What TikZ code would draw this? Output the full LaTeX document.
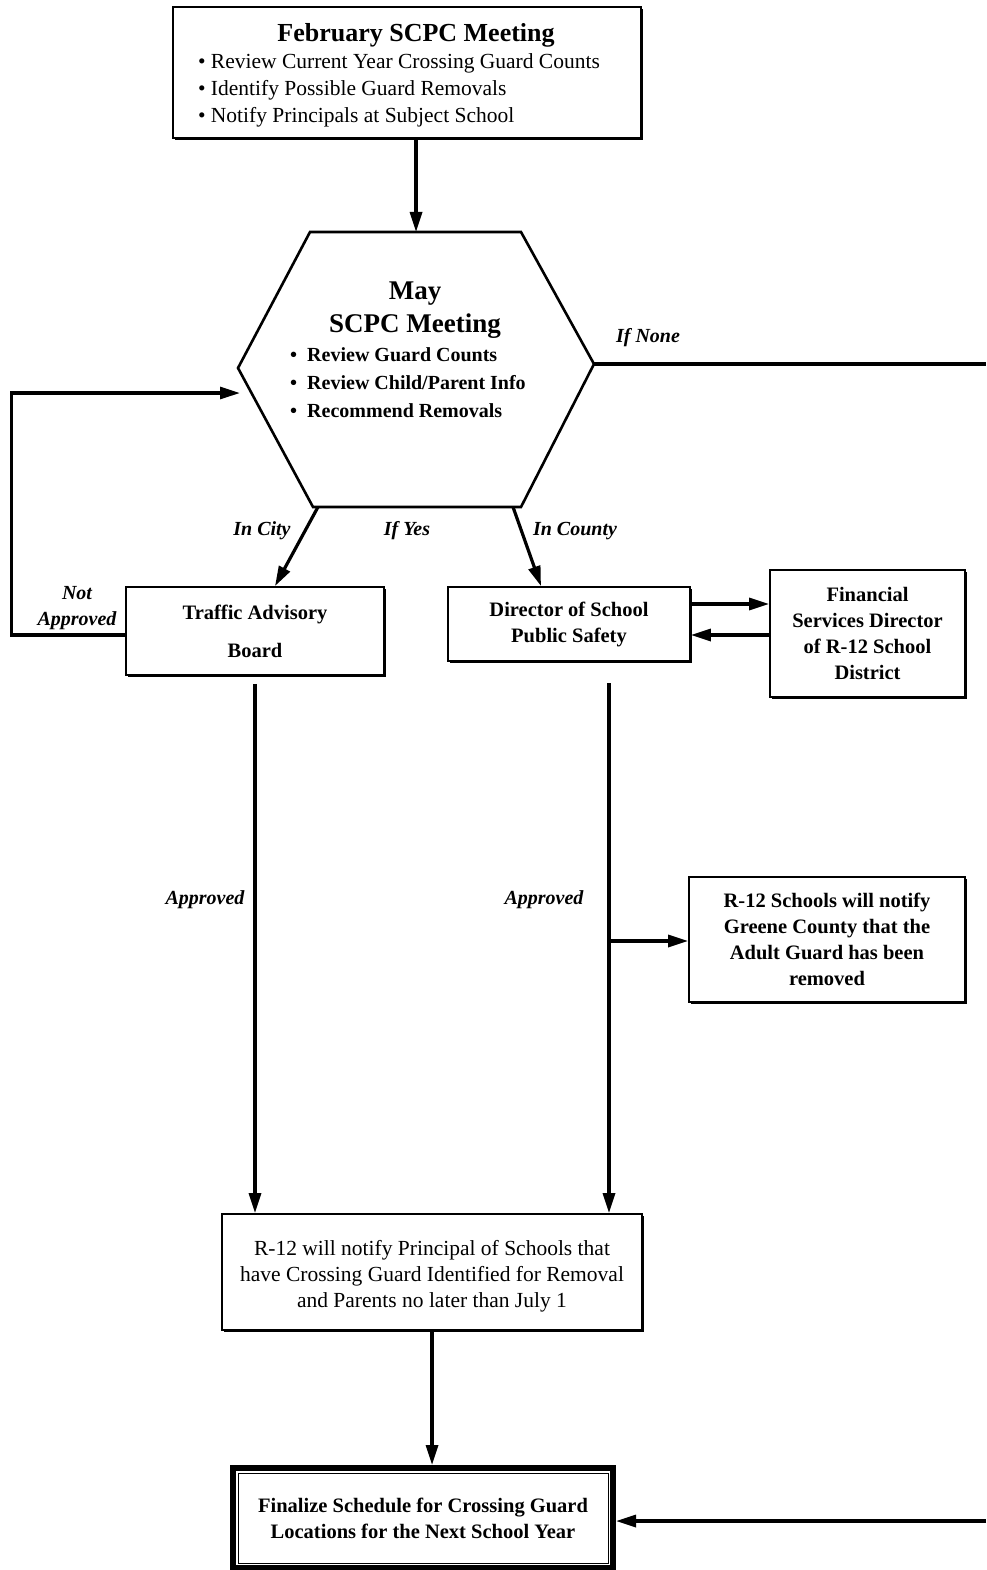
\documentclass[tikz,border=0pt]{standalone}
\usepackage{fontspec}
\setmainfont{Liberation Serif}
\usetikzlibrary{arrows.meta,shadows}

\newcommand{\boldtxt}{\bfseries\fontsize{20.5}{26}\selectfont}
\newcommand{\tagtxt}{\bfseries\itshape\fontsize{20}{26}\selectfont}
\newcommand{\plaintxt}{\fontsize{21.5}{26}\selectfont}

\begin{document}
\begin{tikzpicture}[x=1pt, y=-1pt,
  box/.style={draw, line width=1.8pt, fill=white, align=center, font=\boldtxt,
    inner sep=2pt,
    general shadow={fill=black, shadow xshift=1.6pt, shadow yshift=-1.6pt}},
  wire/.style={line width=3.2pt},
  link/.style={wire, -{Triangle[length=20pt,width=12pt]}},
  tag/.style={font=\tagtxt, align=center}]
\useasboundingbox (0,0) rectangle (986,1570);

% first meeting
\node[box, font=\fontsize{21.5}{27}\selectfont, minimum width=468pt, minimum height=131pt] (feb) at (407,72.5)
  {\raisebox{-4pt}[\height][\depth]{\begin{tabular}{@{}l@{}}
   \multicolumn{1}{@{}c@{}}{\hspace{34pt}\bfseries\fontsize{26}{27}\selectfont February SCPC Meeting}\\
   \textbullet\ Review Current Year Crossing Guard Counts\\
   \textbullet\ Identify Possible Guard Removals\\
   \textbullet\ Notify Principals at Subject School
   \end{tabular}}\hspace*{16pt}};

% hexagon
\coordinate (hnw) at (310,232);
\coordinate (hne) at (521,232);
\coordinate (he) at (594,364);
\coordinate (hse) at (521,507);
\coordinate (hsw) at (313,507);
\coordinate (hw) at (238,368);
\draw[line width=2.6pt, line join=miter] (hnw) -- (hne) -- (he) -- (hse) -- (hsw) -- (hw) -- cycle;
\node[font=\bfseries\fontsize{27}{33}\selectfont, align=center] (maytitle) at (415,310) {May\\SCPC Meeting};
\node[font=\bfseries\fontsize{20}{28}\selectfont, align=left] (maylist) at (408,383)
  {\textbullet\ \ Review Guard Counts\\
   \textbullet\ \ Review Child/Parent Info\\
   \textbullet\ \ Recommend Removals};

% boxes
\node[box, minimum width=258pt, minimum height=88pt] (trb) at (255,631) {Traffic Advisory\\[12pt]Board};
\node[box, minimum width=242pt, minimum height=74pt] (dir) at (569,624) {Director of School\\Public Safety};
\node[box, minimum width=195pt, minimum height=127pt] (fin) at (867.5,633.5)
  {Financial\\Services Director\\of R-12 School\\District};
\node[box, minimum width=276pt, minimum height=125pt] (sch) at (827,939.5)
  {R-12 Schools will notify\\Greene County that the\\Adult Guard has been\\removed};
\node[box, font=\plaintxt, minimum width=420pt, minimum height=116pt] (note) at (432,1272)
  {\raisebox{-4pt}[\height][\depth]{\begin{tabular}{@{}c@{}}R-12 will notify Principal of Schools that\\have Crossing Guard Identified for Removal\\and Parents no later than July 1\end{tabular}}};
\node[draw, line width=6pt, fill=white, align=center, font=\boldtxt,
  minimum width=380pt, minimum height=100pt] (sched) at (423,1518)
  {Finalize Schedule for Crossing Guard\\Locations for the Next School Year};
\draw[line width=1pt] ([shift={(8pt,-8pt)}]sched.north west) rectangle ([shift={(-8pt,8pt)}]sched.south east);

% connectors
\draw[link] (feb.south -| 416,0) -- (416,232);
\draw[link] ([xshift=5pt]hsw) -- ([xshift=20pt]trb.north);
\draw[link] ([xshift=-8pt]hse) -- ([xshift=-28pt]dir.north);
\coordinate (loopin) at (240,393);
\draw[link] ([yshift=-4pt]trb.west) -- ++(-114,0) |- (loopin);
\coordinate (noneA) at (986,364);
\draw[wire] (he) -- (noneA);
\coordinate (noneB) at (986,1521);
\draw[link] (noneB) -- (noneB -| sched.east);
\coordinate (toF) at ([yshift=20pt]dir.east);
\draw[link] (toF) -- (toF -| fin.west);
\coordinate (fromF) at ([yshift=-11pt]dir.east -| fin.west);
\draw[link] (fromF) -- (fromF -| dir.east);
\draw[link, shorten <=8pt] (trb.south) -- ([xshift=-177pt]note.north);
\coordinate (dirdown) at (609,683);
\draw[link] (dirdown) -- ([xshift=177pt]note.north);
\coordinate (brk) at (609,941);
\draw[link] (brk) -- (brk -| sch.west);
\draw[link] (note.south) -- (note.south |- sched.north);

% labels
\node[tag] (lnone) at (648,338) {If None};
\node[tag] (lcity) at (262,531) {In City};
\node[tag] (lyes) at (407,531) {If Yes};
\node[tag] (lcounty) at (575,531) {In County};
\node[tag] (lnot) at (77,608) {Not\\Approved};
\node[tag] (lappa) at (205,900) {Approved};
\node[tag] (lappb) at (544,900) {Approved};
\end{tikzpicture}
\end{document}
